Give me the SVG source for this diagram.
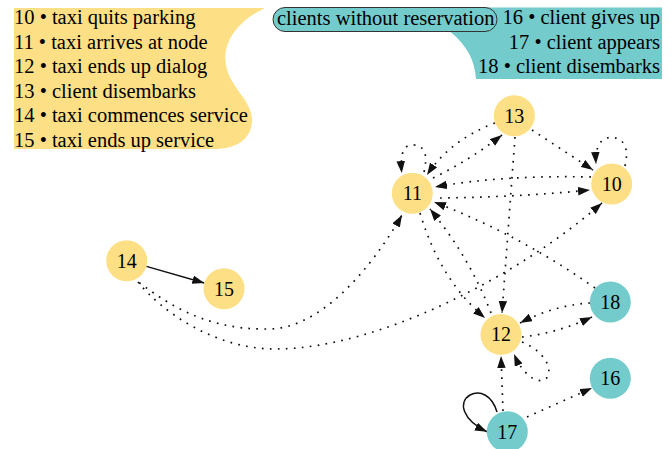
<svg xmlns="http://www.w3.org/2000/svg" width="672" height="449" viewBox="0 0 672 449">
<style>
.bg{fill:#ffffff}
.yl{fill:#FDDF85}
.tl{fill:#74CBCB}
.lg{font-family:"Liberation Serif","Times New Roman",serif;font-size:20.5px;fill:#000}
.nl{font-family:"Liberation Serif","Times New Roman",serif;font-size:20px;fill:#000;text-anchor:middle;dominant-baseline:central}
.dot{fill:none;stroke:#111;stroke-width:1.7;stroke-dasharray:1.7 6.3}
.sol{fill:none;stroke:#111;stroke-width:1.5}
</style>
<defs>
<marker id="ah" markerUnits="userSpaceOnUse" markerWidth="13" markerHeight="9" refX="12" refY="4.25" orient="auto">
<path d="M0,0 L12,4.25 L0,8.5 Z" fill="#111"/>
</marker>
</defs>
<rect class="bg" x="0" y="0" width="672" height="449"/>
<g id="legend-taxi">
<path class="yl" d="M14,8 H265 C235,22 222,45 226,65 C230,88 252,100 252,120 C252,140 235,149 215,149 H14 Z"/>
<text class="lg" x="14" y="24.3">10 • taxi quits parking</text>
<text class="lg" x="14" y="48.8">11 • taxi arrives at node</text>
<text class="lg" x="14" y="73.3">12 • taxi ends up dialog</text>
<text class="lg" x="14" y="97.8">13 • client disembarks</text>
<text class="lg" x="14" y="122.3">14 • taxi commences service</text>
<text class="lg" x="14" y="146.8">15 • taxi ends up service</text>
</g>
<g id="legend-clients">
<path class="tl" d="M430,7.5 H662 V79 H476 C475,62 468,46 450,31.5 L430,20 Z"/>
<rect class="tl" x="273" y="7.5" width="224" height="24" rx="12" ry="12" stroke="#333" stroke-width="1"/>
<text class="lg" x="277" y="25">clients without reservation</text>
<text class="lg" x="660" y="24.3" text-anchor="end">16 • client gives up</text>
<text class="lg" x="660" y="48.8" text-anchor="end">17 • client appears</text>
<text class="lg" x="660" y="73.3" text-anchor="end">18 • client disembarks</text>
</g>
<g id="edges">
<path class="sol" marker-end="url(#ah)" d="M146.4,266.4 L204.3,283"/>
<path class="dot" marker-end="url(#ah)" d="M133,278 C160,298 200,330 267,329 C330,330 385,245 402,215"/>
<path class="dot" marker-end="url(#ah)" d="M138,282 C160,310 215,350 277,349 C380,348 520,275 602,203"/>
<path class="dot" marker-end="url(#ah)" d="M440,198 Q520,197 590,190"/>
<path class="dot" marker-end="url(#ah)" d="M591,177 Q500,175 435,187"/>
<path class="dot" marker-end="url(#ah)" d="M532,130 L593,170"/>
<path class="dot" marker-end="url(#ah)" d="M625,166 C629,150 625,138 612,137.5 C601,137 595,146 596,164"/>
<path class="dot" marker-end="url(#ah)" d="M424,172 C428,155 425,146 414,145 C404,144 400,152 401.7,173"/>
<path class="dot" marker-end="url(#ah)" d="M495,123 Q450,140 427,175"/>
<path class="dot" marker-end="url(#ah)" d="M433,178 Q470,160 502,135"/>
<path class="dot" marker-end="url(#ah)" d="M515,137 L502,313"/>
<path class="dot" marker-end="url(#ah)" d="M420,213 Q440,280 485,318"/>
<path class="dot" marker-end="url(#ah)" d="M491,313 Q470,258 430,209"/>
<path class="dot" marker-end="url(#ah)" d="M595,288 Q520,235 434,202"/>
<path class="dot" marker-end="url(#ah)" d="M590,303 Q555,305 520,323"/>
<path class="dot" marker-end="url(#ah)" d="M522,337 Q558,333 592,317"/>
<path class="dot" marker-end="url(#ah)" d="M522,342 C542,350 552,366 548,376 C543,386 525,380 514,354"/>
<path class="dot" marker-end="url(#ah)" d="M503,411 L501,356"/>
<path class="dot" marker-end="url(#ah)" d="M527,417 L592,388"/>
<path class="sol" marker-end="url(#ah)" d="M497,412 C492,395 480,390 470,395 C458,402 462,420 487,431.7"/>
</g>
<g id="node-10"><circle class="yl" cx="611.7" cy="184" r="20.5"/><text class="nl" x="611.7" y="184">10</text></g>
<g id="node-11"><circle class="yl" cx="412.3" cy="193.3" r="20.5"/><text class="nl" x="412.3" y="193.3">11</text></g>
<g id="node-12"><circle class="yl" cx="501" cy="334.4" r="20.5"/><text class="nl" x="501" y="334.4">12</text></g>
<g id="node-13"><circle class="yl" cx="514.3" cy="115.7" r="20.5"/><text class="nl" x="514.3" y="115.7">13</text></g>
<g id="node-14"><circle class="yl" cx="126.7" cy="260.7" r="20.5"/><text class="nl" x="126.7" y="260.7">14</text></g>
<g id="node-15"><circle class="yl" cx="224" cy="288.7" r="20.5"/><text class="nl" x="224" y="288.7">15</text></g>
<g id="node-16"><circle class="tl" cx="610.3" cy="378.3" r="20.5"/><text class="nl" x="610.3" y="378.3">16</text></g>
<g id="node-17"><circle class="tl" cx="507.3" cy="431.7" r="20.5"/><text class="nl" x="507.3" y="431.7">17</text></g>
<g id="node-18"><circle class="tl" cx="610.3" cy="302" r="20.5"/><text class="nl" x="610.3" y="302">18</text></g>
</svg>
